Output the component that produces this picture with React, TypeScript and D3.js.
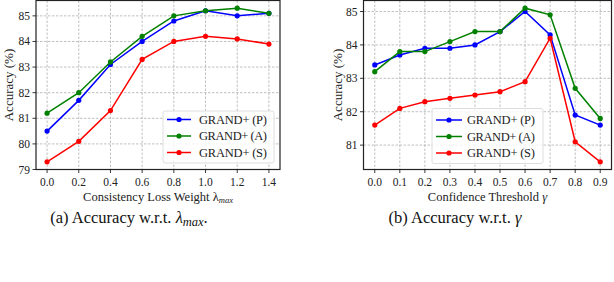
import React from "react";
import * as d3 from "d3";

const lambdaX = [0.0, 0.2, 0.4, 0.6, 0.8, 1.0, 1.2, 1.4];
const lambdaP = [80.5, 81.7, 83.1, 84.0, 84.8, 85.2, 85.0, 85.1];
const lambdaA = [81.2, 82.0, 83.2, 84.2, 85.0, 85.2, 85.3, 85.1];
const lambdaS = [79.3, 80.1, 81.3, 83.3, 84.0, 84.2, 84.1, 83.9];
const lambdaYTicks = [79, 80, 81, 82, 83, 84, 85];

const gammaX = [0.0, 0.1, 0.2, 0.3, 0.4, 0.5, 0.6, 0.7, 0.8, 0.9];
const gammaP = [83.4, 83.7, 83.9, 83.9, 84.0, 84.4, 85.0, 84.3, 81.9, 81.6];
const gammaA = [83.2, 83.8, 83.8, 84.1, 84.4, 84.4, 85.1, 84.9, 82.7, 81.8];
const gammaS = [81.6, 82.1, 82.3, 82.4, 82.5, 82.6, 82.9, 84.2, 81.1, 80.5];
const gammaYTicks = [81, 82, 83, 84, 85];

const seriesNames = ["GRAND+ (P)", "GRAND+ (A)", "GRAND+ (S)"];
const seriesColors = ["#0000ff", "#008000", "#ff0000"];

const TICK_FONT = "'Liberation Serif', 'DejaVu Serif', serif";

type PanelProps = {
  left: number;
  right: number;
  top: number;
  bottom: number;
  xs: number[];
  series: number[][];
  yTicks: number[];
  xDomain: [number, number];
  yDomain: [number, number];
  xDecimals: number;
  yLabelX: number;
  xLabel: React.ReactNode;
  legend: { x0: number; x1: number; y0: number; y1: number; lineX0: number; lineX1: number; textX: number; rows: number[] };
};

function Panel(p: PanelProps) {
  const x = d3.scaleLinear().domain(p.xDomain).range([p.left, p.right]);
  const y = d3.scaleLinear().domain(p.yDomain).range([p.bottom, p.top]);
  const line = d3
    .line<[number, number]>()
    .x((d) => x(d[0]))
    .y((d) => y(d[1]));
  const cx = (p.left + p.right) / 2;
  const cy = (p.top + p.bottom) / 2;
  return (
    <g>
      {p.xs.map((v) => (
        <line key={"gx" + v} x1={x(v)} x2={x(v)} y1={p.top} y2={p.bottom} stroke="#b0b0b0" strokeWidth={0.8} strokeDasharray="2.5,1.5" />
      ))}
      {p.yTicks.map((v) => (
        <line key={"gy" + v} x1={p.left} x2={p.right} y1={y(v)} y2={y(v)} stroke="#b0b0b0" strokeWidth={0.8} strokeDasharray="2.5,1.5" />
      ))}
      {p.series.map((s, i) => {
        const pts = p.xs.map((v, j) => [v, s[j]] as [number, number]);
        return (
          <g key={"s" + i}>
            <path d={line(pts) || ""} fill="none" stroke={seriesColors[i]} strokeWidth={1.5} />
            {pts.map((d, j) => (
              <circle key={j} cx={x(d[0])} cy={y(d[1])} r={2.6} fill={seriesColors[i]} />
            ))}
          </g>
        );
      })}
      <rect x={p.left} y={p.top} width={p.right - p.left} height={p.bottom - p.top} fill="none" stroke="#222" strokeWidth={1.2} />
      {p.xs.map((v) => (
        <g key={"tx" + v}>
          <line x1={x(v)} x2={x(v)} y1={p.bottom} y2={p.bottom + 3.5} stroke="#222" strokeWidth={0.9} />
          <text x={x(v)} y={p.bottom + 16} textAnchor="middle" fontSize={11.5} fontFamily={TICK_FONT} fill="#222">
            {v.toFixed(p.xDecimals)}
          </text>
        </g>
      ))}
      {p.yTicks.map((v) => (
        <g key={"ty" + v}>
          <line x1={p.left - 3.5} x2={p.left} y1={y(v)} y2={y(v)} stroke="#222" strokeWidth={0.9} />
          <text x={p.left - 6} y={y(v) + 4} textAnchor="end" fontSize={11.5} fontFamily={TICK_FONT} fill="#222">
            {v}
          </text>
        </g>
      ))}
      <text transform={`translate(${p.yLabelX},${cy}) rotate(-90)`} textAnchor="middle" fontSize={13} fontFamily={TICK_FONT} fill="#222" dy="0.35em">
        Accuracy (%)
      </text>
      <text x={cx} y={p.bottom + 31} textAnchor="middle" fontSize={12.5} fontFamily={TICK_FONT} fill="#222">
        {p.xLabel}
      </text>
      <rect x={p.legend.x0} y={p.legend.y0} width={p.legend.x1 - p.legend.x0} height={p.legend.y1 - p.legend.y0} rx={2} fill="#fff" fillOpacity={0.8} stroke="#d6d6d6" strokeWidth={0.8} />
      {seriesNames.map((n, i) => (
        <g key={"l" + i}>
          <line x1={p.legend.lineX0} x2={p.legend.lineX1} y1={p.legend.rows[i]} y2={p.legend.rows[i]} stroke={seriesColors[i]} strokeWidth={1.5} />
          <circle cx={(p.legend.lineX0 + p.legend.lineX1) / 2} cy={p.legend.rows[i]} r={2.6} fill={seriesColors[i]} />
          <text x={p.legend.textX} y={p.legend.rows[i] + 4.2} fontSize={12.5} fontFamily={TICK_FONT} fill="#222" textLength={68} lengthAdjust="spacing">
            {n}
          </text>
        </g>
      ))}
    </g>
  );
}

export default function App() {
  return (
    <svg width={614} height={282} style={{ position: "absolute", left: 0, top: 0, background: "#fff" }}>
      <rect width={614} height={282} fill="#fff" />
      <Panel
        left={36}
        right={280}
        top={0.5}
        bottom={169.5}
        xs={lambdaX}
        series={[lambdaP, lambdaA, lambdaS]}
        yTicks={lambdaYTicks}
        xDomain={[-0.07, 1.47]}
        yDomain={[79.0, 85.6]}
        xDecimals={1}
        yLabelX={8.5}
        xLabel={
          <>
            Consistency Loss Weight λ
            <tspan fontSize={8.5} fontStyle="italic" dy={2}>max</tspan>
          </>
        }
        legend={{ x0: 163, x1: 274, y0: 111, y1: 163, lineX0: 167, lineX1: 191, textX: 199, rows: [119.5, 136, 152.5] }}
      />
      <Panel
        left={363.5}
        right={611.5}
        top={0.5}
        bottom={169.5}
        xs={gammaX}
        series={[gammaP, gammaA, gammaS]}
        yTicks={gammaYTicks}
        xDomain={[-0.045, 0.945]}
        yDomain={[80.27, 85.33]}
        xDecimals={1}
        yLabelX={337}
        xLabel={
          <>
            Confidence Threshold <tspan fontStyle="italic">γ</tspan>
          </>
        }
        legend={{ x0: 432, x1: 543, y0: 108.5, y1: 163.5, lineX0: 436, lineX1: 462, textX: 467, rows: [120, 136.5, 153] }}
      />
      <text x={129} y={223} textAnchor="middle" fontSize={16.5} fontFamily={TICK_FONT} fill="#111">
        (a) Accuracy w.r.t. <tspan fontStyle="italic">λ</tspan>
        <tspan fontStyle="italic" fontSize={12.5} dy={3}>max</tspan>
        <tspan dy={-3}>.</tspan>
      </text>
      <text x={455} y={223} textAnchor="middle" fontSize={16.5} fontFamily={TICK_FONT} fill="#111">
        (b) Accuracy w.r.t. <tspan fontStyle="italic">γ</tspan>
      </text>
    </svg>
  );
}
